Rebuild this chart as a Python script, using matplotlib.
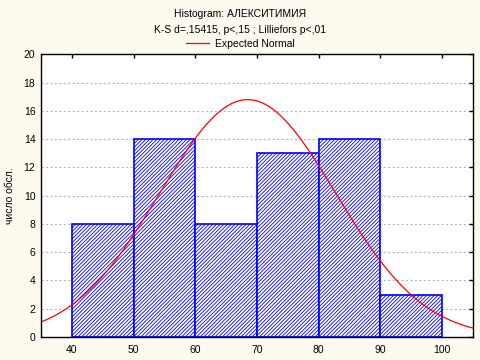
import numpy as np
import matplotlib
matplotlib.use('Agg')
import matplotlib.pyplot as plt

# данные гистограммы
bin_edges = [40, 50, 60, 70, 80, 90, 100]
counts = [8, 14, 8, 13, 14, 3]
x_ticks = [40, 50, 60, 70, 80, 90, 100]
y_ticks = [0, 2, 4, 6, 8, 10, 12, 14, 16, 18, 20]

# параметры ожидаемого нормального распределения
n_obs = 60
mean = 68.5
sd = 14.25
bin_width = 10

plt.rcParams['font.family'] = ['Liberation Sans', 'DejaVu Sans']
plt.rcParams['hatch.linewidth'] = 0.6
plt.rcParams['hatch.color'] = '#0000ff'

fig = plt.figure(figsize=(4.81, 3.6), dpi=100, facecolor='#fffaf0')
ax = fig.add_axes([0.0852, 0.0639, 0.898, 0.785])
ax.set_facecolor('white')

lefts = bin_edges[:-1]
widths = np.diff(bin_edges)
ax.bar(lefts, counts, width=widths, align='edge', facecolor='white',
       edgecolor='#0000ff', hatch='/////////', linewidth=1.2, zorder=2)

xs = np.linspace(35, 105, 400)
ys = n_obs * bin_width / (sd * np.sqrt(2 * np.pi)) * np.exp(-(xs - mean) ** 2 / (2 * sd ** 2))
ax.plot(xs, ys, color='#ff0000', linewidth=0.9, zorder=3, label='Expected Normal')

ax.set_xlim(35, 105)
ax.set_ylim(0, 20)
ax.set_xticks(x_ticks)
ax.set_yticks(y_ticks)
ax.yaxis.grid(True, color='#b8b8b8', linestyle=(0, (2, 2)), linewidth=0.8, zorder=1)
ax.set_axisbelow(True)

ax.tick_params(axis='both', which='both', labelsize=7.5, direction='in',
               top=True, right=True, length=3, width=1)
ax.tick_params(axis='x', bottom=False, pad=6)
ax.tick_params(axis='y', left=False, pad=4)
for sp in ax.spines.values():
    sp.set_linewidth(1.0)
    sp.set_zorder(4)

ax.set_ylabel('число обсл.', fontsize=7.5, labelpad=6)

fig.text(0.5, 0.960, 'Histogram: АЛЕКСИТИМИЯ', ha='center', va='center', fontsize=7.5)
fig.text(0.5, 0.918, 'K-S d=,15415, p<,15 ; Lilliefors p<,01', ha='center', va='center', fontsize=7.5)
fig.legend(loc='center', bbox_to_anchor=(0.5, 0.878), frameon=False, fontsize=7.5,
           handlelength=2.2, handletextpad=0.6, borderpad=0)

fig.savefig('out.png', dpi=100, facecolor=fig.get_facecolor())
